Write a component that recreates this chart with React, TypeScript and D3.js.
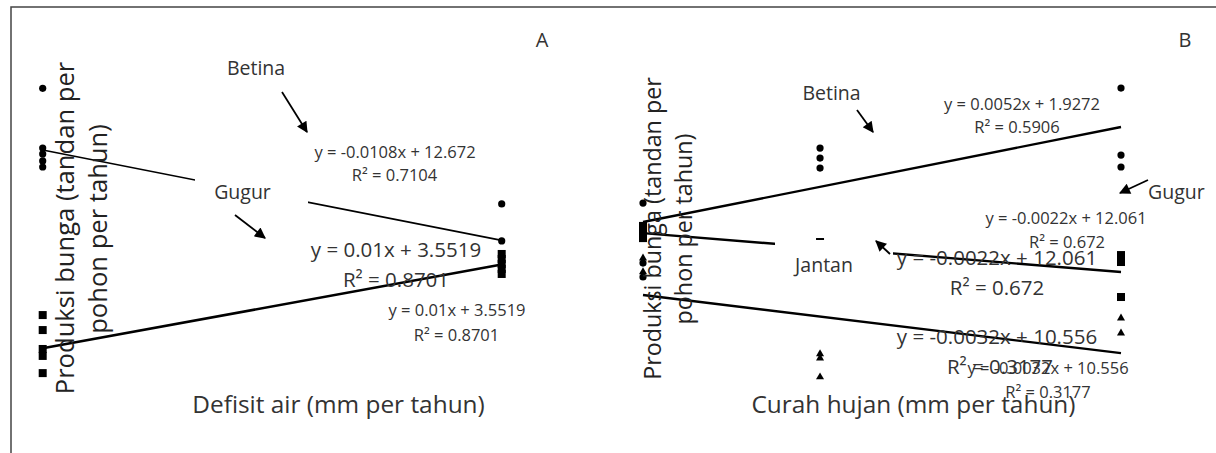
import React from "react";
import * as d3 from "d3";

const W = 1216;
const H = 453;

// Panel A: defisit air (mm per tahun) -- [x, produksi]
const defisitX = [0, 385];
const betinaA = [
  [0, 15.51], [0, 12.76], [0, 12.49], [0, 12.17], [0, 11.89],
  [385, 10.19], [385, 8.49],
];
const gugurA = [
  [0, 5.08], [0, 4.39], [0, 3.52], [0, 3.2], [0, 2.41],
  [385, 7.89], [385, 7.66], [385, 7.43], [385, 7.2], [385, 6.97],
];
const slopeA = [-0.0108, 0.01];
const interceptA = [12.672, 3.5519];

// Panel B: curah hujan (mm per tahun)
const curahX = [1600, 2680];
const betinaB = [
  [1600, 10.23], [1600, 8.62], [1600, 7.47], [1600, 6.83],
  [2000, 12.76], [2000, 12.3], [2000, 11.84],
  [2680, 15.52], [2680, 12.44], [2680, 11.89],
];
const gugurB = [
  [1600, 9.18], [1600, 8.9], [1600, 8.62],
  [2000, 8.44],
  [2680, 7.84], [2680, 7.52], [2680, 5.91],
];
const jantanB = [
  [1600, 7.7], [1600, 7.06],
  [2000, 3.29], [2000, 3.1], [2000, 2.23],
  [2680, 4.94], [2680, 4.25],
];
// fitted values at the ends of curahX
const trendBetinaB = [9.36, 13.73];
const trendGugurB = [8.85, 7.06];
const trendJantanB = [6.0, 3.33];

const font = "'Open Sans', sans-serif";
const txt = "#333";

const xA = d3.scaleLinear().domain(d3.extent(defisitX) as number[]).range([42.7, 501.7]);
const xB = d3.scaleLinear().domain(d3.extent(curahX) as number[]).range([643, 1121]);
const y = d3.scaleLinear().domain([0, 16]).range([425.5, 77.66]);

const line = d3.line<number[]>();

const Circles = ({ data, xs }) => (
  <g>
    {data.map((d, i) => (
      <circle key={i} cx={xs(d[0])} cy={y(d[1])} r={3.6} fill="#000" />
    ))}
  </g>
);

const Squares = ({ data, xs }) => (
  <g>
    {data.map((d, i) => (
      <rect key={i} x={xs(d[0]) - 4} y={y(d[1]) - 4} width={8} height={8} fill="#000" />
    ))}
  </g>
);

const tri = d3.symbol(d3.symbolTriangle, 28)();
const Triangles = ({ data, xs }) => (
  <g>
    {data.map((d, i) => (
      <path key={i} d={tri} transform={`translate(${xs(d[0])},${y(d[1])})`} fill="#000" />
    ))}
  </g>
);

const Label = ({ x, y, size, children, anchor = "middle" }) => (
  <text x={x} y={y} fontSize={size} textAnchor={anchor} fill={txt}>
    {children}
  </text>
);

const Arrow = ({ x1, y1, x2, y2 }) => (
  <line x1={x1} y1={y1} x2={x2} y2={y2} stroke="#000" strokeWidth={1.8} markerEnd="url(#ah)" />
);

export default function App() {
  const fitA = (k) => defisitX.map((x) => [xA(x), y(slopeA[k] * x + interceptA[k])]);
  const fitB = (vals) => curahX.map((x, i) => [xB(x), y(vals[i])]);

  return (
    <svg
      width={W}
      height={H}
      viewBox={`0 0 ${W} ${H}`}
      style={{ position: "absolute", left: 0, top: 0, background: "#fff" }}
      fontFamily={font}
    >
      <defs>
        <marker id="ah" viewBox="0 0 10 10" refX={9} refY={5} markerUnits="userSpaceOnUse"
          markerWidth={13} markerHeight={11} orient="auto">
          <path d="M0,0 L10,5 L0,10 z" fill="#000" />
        </marker>
      </defs>
      <rect width={W} height={H} fill="#fff" />
      <rect x={11} y={7} width={W} height={H} fill="none" stroke="#444" strokeWidth={1.5} />

      {/* Panel A */}
      <path d={line(fitA(0))} stroke="#000" strokeWidth={1.6} fill="none" />
      <path d={line(fitA(1))} stroke="#000" strokeWidth={2.6} fill="none" />
      <Circles data={betinaA} xs={xA} />
      <Squares data={gugurA} xs={xA} />
      <rect x={195} y={176} width={113} height={32} fill="#fff" />

      <g transform="translate(74,228) rotate(-90)">
        <text textAnchor="middle" fontSize={25.6} fill="#222">Produksi bunga (tandan per</text>
      </g>
      <g transform="translate(107,229) rotate(-90)">
        <text textAnchor="middle" fontSize={25.6} fill="#222">pohon per tahun)</text>
      </g>
      <Label x={338.5} y={413} size={24.4}>Defisit air (mm per tahun)</Label>
      <Label x={542} y={47} size={20}>A</Label>
      <Label x={256} y={75} size={19.5}>Betina</Label>
      <Label x={242.5} y={199} size={19.5}>Gugur</Label>
      <Label x={395} y={158} size={16.5}>y = -0.0108x + 12.672</Label>
      <Label x={394.5} y={181} size={16.5}>R² = 0.7104</Label>
      <Label x={396} y={257} size={20.5}>y = 0.01x + 3.5519</Label>
      <Label x={396} y={287} size={20.5}>R² = 0.8701</Label>
      <Label x={457} y={316} size={16.5}>y = 0.01x + 3.5519</Label>
      <Label x={456.5} y={341} size={16.5}>R² = 0.8701</Label>
      <Arrow x1={282} y1={92} x2={307} y2={132} />
      <Arrow x1={235} y1={215} x2={265} y2={238} />

      {/* Panel B */}
      <path d={line(fitB(trendBetinaB))} stroke="#000" strokeWidth={2.4} fill="none" />
      <path d={line(fitB(trendGugurB))} stroke="#000" strokeWidth={2.4} fill="none" />
      <path d={line(fitB(trendJantanB))} stroke="#000" strokeWidth={2.4} fill="none" />
      <Circles data={betinaB} xs={xB} />
      <Squares data={gugurB} xs={xB} />
      <Triangles data={jantanB} xs={xB} />
      <rect x={775} y={240} width={118} height={42} fill="#fff" />

      <g transform="translate(661,228.5) rotate(-90)">
        <text textAnchor="middle" fontSize={23.3} fill="#222">Produksi bunga (tandan per</text>
      </g>
      <g transform="translate(692,229) rotate(-90)">
        <text textAnchor="middle" fontSize={23.3} fill="#222">pohon per tahun)</text>
      </g>
      <Label x={913.5} y={413} size={24.4}>Curah hujan (mm per tahun)</Label>
      <Label x={1185} y={47} size={20}>B</Label>
      <Label x={831.5} y={100} size={19.5}>Betina</Label>
      <Label x={1148} y={199} size={19.5} anchor="start">Gugur</Label>
      <Label x={824} y={272} size={19.5}>Jantan</Label>
      <Label x={1022} y={110} size={16.5}>y = 0.0052x + 1.9272</Label>
      <Label x={1017} y={133} size={16.5}>R² = 0.5906</Label>
      <Label x={1066} y={224} size={16.5}>y = -0.0022x + 12.061</Label>
      <Label x={1067} y={248} size={16.5}>R² = 0.672</Label>
      <Label x={997} y={265} size={20.5}>y = -0.0022x + 12.061</Label>
      <Label x={997} y={295} size={20.5}>R² = 0.672</Label>
      <Label x={1000} y={374} size={20.5}>R² = 0.3177</Label>
      <Label x={997} y={344} size={20.5}>y = -0.0032x + 10.556</Label>
      <Label x={1048} y={374} size={16.5}>y = -0.0032x + 10.556</Label>
      <Label x={1048} y={398} size={16.5}>R² = 0.3177</Label>
      <Arrow x1={857} y1={110} x2={873} y2={132} />
      <Arrow x1={1148} y1={180} x2={1120} y2={193} />
      <Arrow x1={890} y1={254} x2={876} y2={241} />
    </svg>
  );
}
